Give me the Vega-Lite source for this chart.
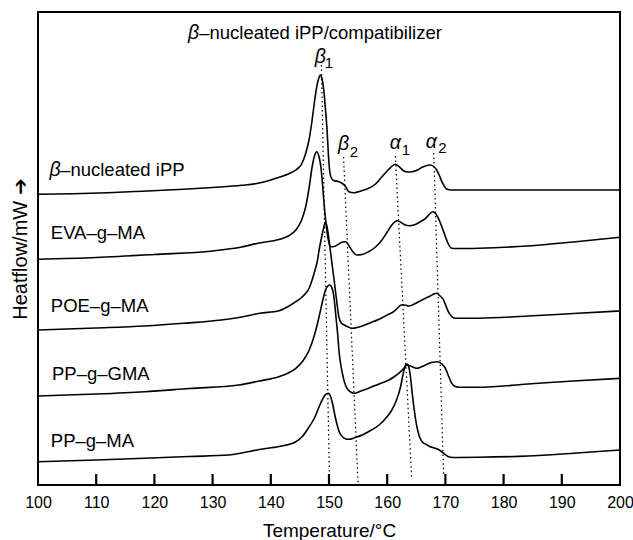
{
  "$schema": "https://vega.github.io/schema/vega-lite/v6.json",
  "width": 582,
  "height": 473,
  "autosize": {"type": "none"},
  "padding": {"left": 38, "top": 12, "right": 13, "bottom": 55},
  "config": {
    "view": {"stroke": "#000", "strokeWidth": 2},
    "font": "Liberation Sans",
    "text": {"font": "Liberation Sans", "color": "#000"}
  },
  "datasets": {
    "curves": [
      {"s":"iPP","T":100,"hf":290.7},{"s":"iPP","T":106,"hf":291.3},{"s":"iPP","T":112,"hf":292.3},{"s":"iPP","T":118,"hf":293.8},{"s":"iPP","T":125,"hf":295.7},{"s":"iPP","T":130,"hf":297.5},{"s":"iPP","T":135,"hf":299.7},{"s":"iPP","T":138,"hf":302},{"s":"iPP","T":140,"hf":305},{"s":"iPP","T":141.4,"hf":307.7},{"s":"iPP","T":143,"hf":311},{"s":"iPP","T":144.3,"hf":315},{"s":"iPP","T":145.3,"hf":321},{"s":"iPP","T":146,"hf":331.7},{"s":"iPP","T":146.6,"hf":346},{"s":"iPP","T":147.1,"hf":365},{"s":"iPP","T":147.5,"hf":383},{"s":"iPP","T":147.8,"hf":395},{"s":"iPP","T":148.2,"hf":406},{"s":"iPP","T":148.5,"hf":410},{"s":"iPP","T":148.8,"hf":406},{"s":"iPP","T":149.1,"hf":395},{"s":"iPP","T":149.4,"hf":375},{"s":"iPP","T":149.7,"hf":351.7},{"s":"iPP","T":149.9,"hf":330},{"s":"iPP","T":150.1,"hf":315},{"s":"iPP","T":150.4,"hf":307},{"s":"iPP","T":150.8,"hf":304.5},{"s":"iPP","T":151.7,"hf":303.3},{"s":"iPP","T":152.3,"hf":301.5},{"s":"iPP","T":152.9,"hf":298},{"s":"iPP","T":153.4,"hf":293.3},{"s":"iPP","T":154.3,"hf":292.3},{"s":"iPP","T":155.5,"hf":294},{"s":"iPP","T":156.8,"hf":296.7},{"s":"iPP","T":158,"hf":301},{"s":"iPP","T":159.1,"hf":308.3},{"s":"iPP","T":160,"hf":314},{"s":"iPP","T":160.6,"hf":317.7},{"s":"iPP","T":161.4,"hf":320.7},{"s":"iPP","T":162.1,"hf":318},{"s":"iPP","T":162.8,"hf":314.3},{"s":"iPP","T":163.6,"hf":313},{"s":"iPP","T":164.3,"hf":313.3},{"s":"iPP","T":165.2,"hf":315},{"s":"iPP","T":166,"hf":317.7},{"s":"iPP","T":166.8,"hf":319.5},{"s":"iPP","T":167.4,"hf":320},{"s":"iPP","T":168,"hf":318.5},{"s":"iPP","T":168.5,"hf":315},{"s":"iPP","T":169,"hf":309},{"s":"iPP","T":169.4,"hf":303.3},{"s":"iPP","T":169.9,"hf":298},{"s":"iPP","T":170.3,"hf":295.7},{"s":"iPP","T":171,"hf":295},{"s":"iPP","T":175.7,"hf":295},{"s":"iPP","T":185,"hf":295},{"s":"iPP","T":200,"hf":295},

      {"s":"EVA","T":100,"hf":225.7},{"s":"EVA","T":110,"hf":227.5},{"s":"EVA","T":120,"hf":230.5},{"s":"EVA","T":130,"hf":234},{"s":"EVA","T":135,"hf":238},{"s":"EVA","T":138,"hf":242},{"s":"EVA","T":141.4,"hf":245.5},{"s":"EVA","T":143,"hf":249},{"s":"EVA","T":144.3,"hf":255},{"s":"EVA","T":145.3,"hf":265},{"s":"EVA","T":146,"hf":278.3},{"s":"EVA","T":146.6,"hf":298},{"s":"EVA","T":147.1,"hf":318},{"s":"EVA","T":147.5,"hf":329},{"s":"EVA","T":147.9,"hf":333.3},{"s":"EVA","T":148.3,"hf":328},{"s":"EVA","T":148.6,"hf":318.3},{"s":"EVA","T":148.9,"hf":300},{"s":"EVA","T":149.1,"hf":285},{"s":"EVA","T":149.4,"hf":266},{"s":"EVA","T":149.7,"hf":251.7},{"s":"EVA","T":150,"hf":242},{"s":"EVA","T":150.3,"hf":238.3},{"s":"EVA","T":150.9,"hf":238.5},{"s":"EVA","T":151.7,"hf":241},{"s":"EVA","T":152.3,"hf":243},{"s":"EVA","T":152.9,"hf":243.3},{"s":"EVA","T":153.3,"hf":240.5},{"s":"EVA","T":153.7,"hf":236.7},{"s":"EVA","T":154.2,"hf":232.5},{"s":"EVA","T":154.8,"hf":230},{"s":"EVA","T":155.7,"hf":230.5},{"s":"EVA","T":156.8,"hf":233.3},{"s":"EVA","T":158,"hf":238},{"s":"EVA","T":159.1,"hf":245},{"s":"EVA","T":160,"hf":253},{"s":"EVA","T":160.8,"hf":260},{"s":"EVA","T":161.7,"hf":264.3},{"s":"EVA","T":162.4,"hf":262.5},{"s":"EVA","T":163.1,"hf":260},{"s":"EVA","T":163.8,"hf":259.3},{"s":"EVA","T":164.6,"hf":260},{"s":"EVA","T":165.6,"hf":263},{"s":"EVA","T":166.6,"hf":266.7},{"s":"EVA","T":167.3,"hf":271},{"s":"EVA","T":167.8,"hf":273.3},{"s":"EVA","T":168.3,"hf":271.5},{"s":"EVA","T":168.8,"hf":266.7},{"s":"EVA","T":169.4,"hf":258},{"s":"EVA","T":170,"hf":248.3},{"s":"EVA","T":170.5,"hf":241},{"s":"EVA","T":171.1,"hf":236.7},{"s":"EVA","T":172,"hf":236.5},{"s":"EVA","T":175.7,"hf":236.8},{"s":"EVA","T":184.2,"hf":239},{"s":"EVA","T":192,"hf":243},{"s":"EVA","T":200,"hf":247.7},

      {"s":"POE","T":100,"hf":155},{"s":"POE","T":110,"hf":157},{"s":"POE","T":118.3,"hf":159},{"s":"POE","T":125,"hf":161.7},{"s":"POE","T":131.5,"hf":165},{"s":"POE","T":135,"hf":168},{"s":"POE","T":138.1,"hf":171.7},{"s":"POE","T":141.4,"hf":174.3},{"s":"POE","T":143,"hf":178.5},{"s":"POE","T":144.3,"hf":183.3},{"s":"POE","T":145.3,"hf":187.5},{"s":"POE","T":146,"hf":191.7},{"s":"POE","T":146.6,"hf":197},{"s":"POE","T":147.1,"hf":205},{"s":"POE","T":147.6,"hf":215},{"s":"POE","T":148,"hf":224},{"s":"POE","T":148.3,"hf":235},{"s":"POE","T":148.7,"hf":247},{"s":"POE","T":149,"hf":255},{"s":"POE","T":149.4,"hf":263.3},{"s":"POE","T":149.7,"hf":257},{"s":"POE","T":150,"hf":245},{"s":"POE","T":150.5,"hf":222},{"s":"POE","T":150.9,"hf":204},{"s":"POE","T":151.3,"hf":185},{"s":"POE","T":151.7,"hf":168},{"s":"POE","T":152.1,"hf":162},{"s":"POE","T":152.6,"hf":160},{"s":"POE","T":153.3,"hf":158},{"s":"POE","T":154,"hf":156.7},{"s":"POE","T":155,"hf":157.8},{"s":"POE","T":155.7,"hf":159},{"s":"POE","T":157,"hf":162},{"s":"POE","T":158.6,"hf":165.7},{"s":"POE","T":160,"hf":170},{"s":"POE","T":161.1,"hf":173.3},{"s":"POE","T":161.8,"hf":177},{"s":"POE","T":162.4,"hf":180},{"s":"POE","T":163,"hf":180},{"s":"POE","T":163.7,"hf":179},{"s":"POE","T":164.5,"hf":180.5},{"s":"POE","T":165.4,"hf":183.3},{"s":"POE","T":166.5,"hf":186.5},{"s":"POE","T":167.4,"hf":189},{"s":"POE","T":168,"hf":191},{"s":"POE","T":168.5,"hf":191.7},{"s":"POE","T":169.1,"hf":189},{"s":"POE","T":169.7,"hf":185},{"s":"POE","T":170.1,"hf":179},{"s":"POE","T":170.5,"hf":173.3},{"s":"POE","T":171,"hf":169},{"s":"POE","T":171.7,"hf":166.7},{"s":"POE","T":175.7,"hf":166.8},{"s":"POE","T":184.2,"hf":169},{"s":"POE","T":192,"hf":171.5},{"s":"POE","T":200,"hf":174},

      {"s":"GMA","T":100,"hf":89},{"s":"GMA","T":110,"hf":91},{"s":"GMA","T":118.3,"hf":93.3},{"s":"GMA","T":126,"hf":96.5},{"s":"GMA","T":134.5,"hf":100},{"s":"GMA","T":138,"hf":104},{"s":"GMA","T":141.4,"hf":108.3},{"s":"GMA","T":143,"hf":112},{"s":"GMA","T":144.3,"hf":116.7},{"s":"GMA","T":145.5,"hf":124},{"s":"GMA","T":146.6,"hf":135},{"s":"GMA","T":147.5,"hf":150},{"s":"GMA","T":148.3,"hf":168.3},{"s":"GMA","T":148.9,"hf":184},{"s":"GMA","T":149.4,"hf":195},{"s":"GMA","T":149.8,"hf":199},{"s":"GMA","T":150.1,"hf":200},{"s":"GMA","T":150.4,"hf":198.5},{"s":"GMA","T":150.7,"hf":193.3},{"s":"GMA","T":151,"hf":180},{"s":"GMA","T":151.25,"hf":165},{"s":"GMA","T":151.5,"hf":150},{"s":"GMA","T":151.7,"hf":135},{"s":"GMA","T":152,"hf":121},{"s":"GMA","T":152.3,"hf":111.7},{"s":"GMA","T":152.7,"hf":102},{"s":"GMA","T":153.1,"hf":96.7},{"s":"GMA","T":153.7,"hf":93},{"s":"GMA","T":154.3,"hf":91.7},{"s":"GMA","T":155.5,"hf":94},{"s":"GMA","T":156.8,"hf":96.7},{"s":"GMA","T":158.6,"hf":101},{"s":"GMA","T":160.3,"hf":105},{"s":"GMA","T":161.5,"hf":109.5},{"s":"GMA","T":162.3,"hf":113.3},{"s":"GMA","T":162.9,"hf":117},{"s":"GMA","T":163.4,"hf":120},{"s":"GMA","T":164,"hf":119},{"s":"GMA","T":164.6,"hf":117.5},{"s":"GMA","T":165.1,"hf":116.7},{"s":"GMA","T":165.8,"hf":118},{"s":"GMA","T":166.6,"hf":120},{"s":"GMA","T":167.6,"hf":122.5},{"s":"GMA","T":168.7,"hf":123.3},{"s":"GMA","T":169.4,"hf":121},{"s":"GMA","T":170,"hf":116.7},{"s":"GMA","T":170.6,"hf":108},{"s":"GMA","T":171.1,"hf":101.7},{"s":"GMA","T":171.7,"hf":98.5},{"s":"GMA","T":172.5,"hf":97.7},{"s":"GMA","T":175.7,"hf":97.7},{"s":"GMA","T":184.2,"hf":101},{"s":"GMA","T":192,"hf":104},{"s":"GMA","T":200,"hf":106.7},

      {"s":"MA","T":100,"hf":23.3},{"s":"MA","T":110,"hf":25},{"s":"MA","T":118.3,"hf":26.7},{"s":"MA","T":126,"hf":28.5},{"s":"MA","T":132.8,"hf":30},{"s":"MA","T":135,"hf":32},{"s":"MA","T":138,"hf":35.5},{"s":"MA","T":141.4,"hf":38.5},{"s":"MA","T":144.3,"hf":43.3},{"s":"MA","T":145.5,"hf":49},{"s":"MA","T":146.6,"hf":58.3},{"s":"MA","T":147.5,"hf":67},{"s":"MA","T":148.3,"hf":78.3},{"s":"MA","T":149,"hf":87},{"s":"MA","T":149.5,"hf":91},{"s":"MA","T":149.9,"hf":91.7},{"s":"MA","T":150.3,"hf":88},{"s":"MA","T":150.6,"hf":81.7},{"s":"MA","T":151,"hf":70},{"s":"MA","T":151.4,"hf":60},{"s":"MA","T":151.8,"hf":52.5},{"s":"MA","T":152.3,"hf":48.3},{"s":"MA","T":152.8,"hf":46.3},{"s":"MA","T":153.4,"hf":45.7},{"s":"MA","T":154.5,"hf":47.5},{"s":"MA","T":155.7,"hf":50},{"s":"MA","T":157,"hf":54},{"s":"MA","T":158.6,"hf":60},{"s":"MA","T":159.8,"hf":67},{"s":"MA","T":160.8,"hf":75},{"s":"MA","T":161.6,"hf":85},{"s":"MA","T":162.3,"hf":98.3},{"s":"MA","T":162.7,"hf":110},{"s":"MA","T":163.1,"hf":119},{"s":"MA","T":163.4,"hf":121},{"s":"MA","T":163.7,"hf":118.3},{"s":"MA","T":164,"hf":108},{"s":"MA","T":164.3,"hf":91.7},{"s":"MA","T":164.7,"hf":73},{"s":"MA","T":165.1,"hf":58.3},{"s":"MA","T":165.5,"hf":49},{"s":"MA","T":166,"hf":43.3},{"s":"MA","T":166.7,"hf":40.5},{"s":"MA","T":167.4,"hf":38.3},{"s":"MA","T":168.1,"hf":37},{"s":"MA","T":168.7,"hf":35.7},{"s":"MA","T":169.2,"hf":34},{"s":"MA","T":169.7,"hf":31.7},{"s":"MA","T":170.2,"hf":29.3},{"s":"MA","T":170.8,"hf":27.7},{"s":"MA","T":172,"hf":27.5},{"s":"MA","T":175.7,"hf":27.7},{"s":"MA","T":184.2,"hf":29},{"s":"MA","T":192,"hf":31.8},{"s":"MA","T":200,"hf":35}
    ],
    "guides": [
      {"T1":148.7,"h1":420,"T2":150.1,"h2":0},
      {"T1":152.5,"h1":328,"T2":155.0,"h2":0},
      {"T1":161.4,"h1":329,"T2":164.2,"h2":6.7},
      {"T1":168.0,"h1":332,"T2":169.7,"h2":8.3}
    ],
    "tickpos": [
      {"T":110},{"T":120},{"T":130},{"T":140},{"T":150},{"T":160},{"T":170},{"T":180},{"T":190}
    ],
    "greek": [
      {"t":"β","T":148.5,"h":421.7},
      {"t":"β","T":152.5,"h":335},
      {"t":"α","T":161.4,"h":335.7},
      {"t":"α","T":167.6,"h":336.7},
      {"t":"β","T":102.95,"h":309},
      {"t":"β","T":126.75,"h":445.7}
    ],
    "subs": [
      {"t":"1","T":150.0,"h":416.7},
      {"t":"2","T":154.3,"h":327.7},
      {"t":"1","T":163.2,"h":330},
      {"t":"2","T":169.5,"h":331.7}
    ],
    "labels": [
      {"t":"–nucleated iPP/compatibilizer","T":127.7,"h":445.7},
      {"t":"–nucleated iPP","T":103.8,"h":309},
      {"t":"EVA–g–MA","T":102.2,"h":245.7},
      {"t":"POE–g–MA","T":102.2,"h":173.3},
      {"t":"PP–g–GMA","T":102.4,"h":105},
      {"t":"PP–g–MA","T":102.2,"h":38.3}
    ]
  },
  "layer": [
    {
      "data": {"name": "tickpos"},
      "mark": {"type": "rule", "color": "#000", "strokeWidth": 2.2},
      "encoding": {
        "x": {"field": "T", "type": "quantitative", "scale": {"domain": [100, 200], "nice": false},
          "axis": {"title": "Temperature/°C", "values": [100,110,120,130,140,150,160,170,180,190,200],
            "ticks": false, "labelFontSize": 16, "labelColor": "#000",
            "labelPadding": 9, "labelFont": "Liberation Sans", "labelFlush": false, "domain": false, "grid": false,
            "titleFont": "Liberation Sans", "titleFontSize": 19, "titleFontWeight": "normal", "titleColor": "#000",
            "titleY": 51, "titleBaseline": "alphabetic"}},
        "y": {"datum": 0, "type": "quantitative", "scale": {"domain": [0, 473], "nice": false},
          "axis": {"title": "Heatflow/mW ➔", "ticks": false, "labels": false, "domain": false, "grid": false,
            "titleFont": "Liberation Sans", "titleFontSize": 20, "titleFontWeight": "normal", "titleColor": "#000",
            "titleX": -12, "titleBaseline": "alphabetic"}},
        "y2": {"datum": 11}
      }
    },
    {
      "data": {"name": "curves"},
      "mark": {"type": "line", "color": "#000", "strokeWidth": 1.6, "interpolate": "monotone"},
      "encoding": {
        "x": {"field": "T", "type": "quantitative"},
        "y": {"field": "hf", "type": "quantitative"},
        "detail": {"field": "s"}
      }
    },
    {
      "data": {"name": "guides"},
      "mark": {"type": "rule", "color": "#000", "strokeWidth": 1.2, "strokeDash": [1.5, 3]},
      "encoding": {
        "x": {"field": "T1", "type": "quantitative"},
        "y": {"field": "h1", "type": "quantitative"},
        "x2": {"field": "T2"},
        "y2": {"field": "h2"}
      }
    },
    {
      "data": {"name": "greek"},
      "mark": {"type": "text", "fontSize": 19.5, "fontStyle": "italic", "align": "center", "baseline": "alphabetic", "color": "#000"},
      "encoding": {
        "x": {"field": "T", "type": "quantitative"},
        "y": {"field": "h", "type": "quantitative"},
        "text": {"field": "t"}
      }
    },
    {
      "data": {"name": "subs"},
      "mark": {"type": "text", "fontSize": 15, "align": "center", "baseline": "alphabetic", "color": "#000"},
      "encoding": {
        "x": {"field": "T", "type": "quantitative"},
        "y": {"field": "h", "type": "quantitative"},
        "text": {"field": "t"}
      }
    },
    {
      "data": {"name": "labels"},
      "mark": {"type": "text", "fontSize": 18.5, "align": "left", "baseline": "alphabetic", "color": "#000"},
      "encoding": {
        "x": {"field": "T", "type": "quantitative"},
        "y": {"field": "h", "type": "quantitative"},
        "text": {"field": "t"}
      }
    }
  ]
}
